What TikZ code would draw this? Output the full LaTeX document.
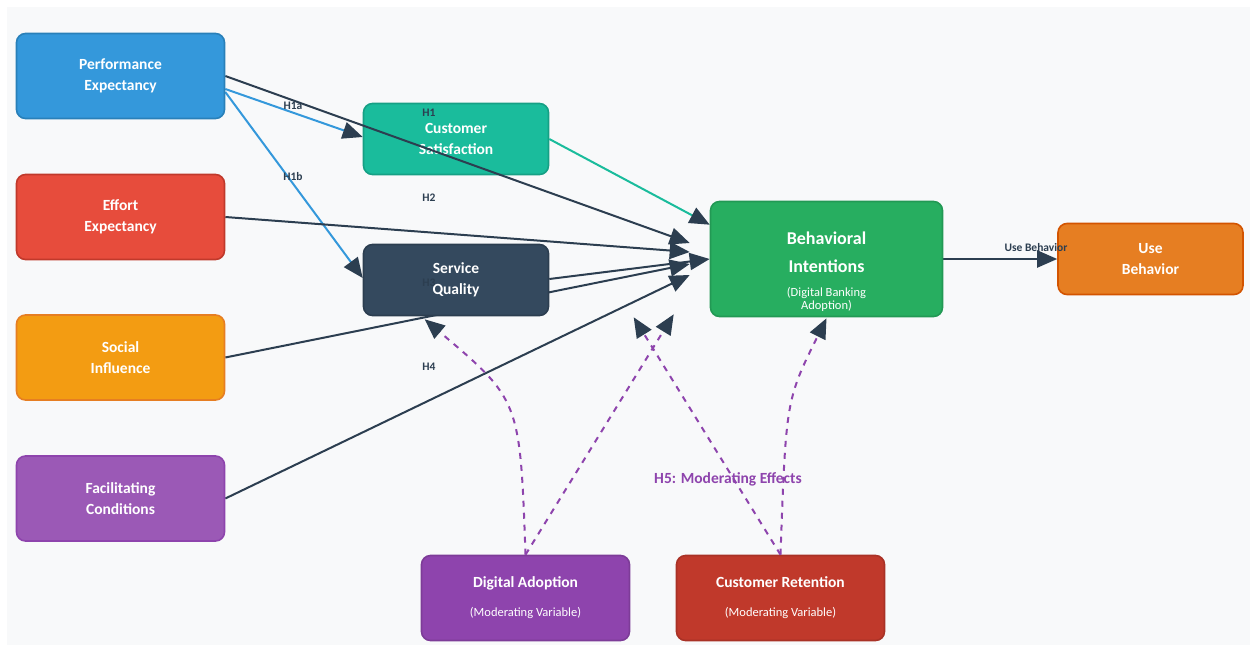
\documentclass[tikz,border=0pt]{standalone}
\usepackage{fontspec}
\setmainfont{Carlito}
\usetikzlibrary{arrows.meta,calc}
\definecolor{panel}{HTML}{F8F9FA}
\definecolor{dk}{HTML}{2C3E50}
\definecolor{peF}{HTML}{3498DB}\definecolor{peD}{HTML}{2980B9}
\definecolor{eeF}{HTML}{E74C3C}\definecolor{eeD}{HTML}{C0392B}
\definecolor{siF}{HTML}{F39C12}\definecolor{siD}{HTML}{E67E22}
\definecolor{fcF}{HTML}{9B59B6}\definecolor{fcD}{HTML}{8E44AD}
\definecolor{csF}{HTML}{1ABC9C}\definecolor{csD}{HTML}{16A085}
\definecolor{sqF}{HTML}{34495E}\definecolor{sqD}{HTML}{2C3E50}
\definecolor{biF}{HTML}{27AE60}\definecolor{biD}{HTML}{229954}
\definecolor{ubF}{HTML}{E67E22}\definecolor{ubD}{HTML}{D35400}
\definecolor{daF}{HTML}{8E44AD}\definecolor{daD}{HTML}{7D3C98}
\definecolor{crF}{HTML}{C0392B}\definecolor{crD}{HTML}{A93226}
\pgfdeclarelayer{bg}\pgfdeclarelayer{lo}\pgfdeclarelayer{mid}\pgfdeclarelayer{top}
\pgfsetlayers{bg,lo,mid,main,top}
\begin{document}
\begin{tikzpicture}[x=1pt,y=-1pt,
  box/.style={rounded corners=9pt, line width=1.6pt, text=white, align=center,
    inner sep=0pt, font=\bfseries\fontsize{15.5}{21}\selectfont},
  side/.style={box, minimum width=208pt, minimum height=85pt},
  mid/.style={box, minimum width=185pt, minimum height=71pt},
  hyp/.style={text=dk, font=\bfseries\fontsize{11.5}{13}\selectfont, inner sep=0pt},
  tip/.style={-{Triangle[length=20pt,width=17pt,color=dk]}},
  dline/.style={line width=2pt, draw=dk, tip},
  modl/.style={line width=2pt, draw=daF, dash pattern=on 6pt off 6pt, tip}
]
\begin{pgfonlayer}{bg}
\fill[white] (0,0) rectangle (1255,646);
\fill[panel] (7,7) rectangle (1250,645);
\end{pgfonlayer}
\useasboundingbox (0,0) rectangle (1255,646);

% boxes
\node[side, fill=peF, draw=peD] (pe) at (120.5,76) {Performance\\Expectancy};
\node[side, fill=eeF, draw=eeD] (ee) at (120.5,217) {Effort\\Expectancy};
\node[side, fill=siF, draw=siD] (si) at (120.5,357.5) {Social\\Influence};
\node[side, fill=fcF, draw=fcD] (fc) at (120.5,498.5) {Facilitating\\Conditions};
\begin{pgfonlayer}{lo}
\node[mid, fill=csF, draw=csD] (cs) at (456,139) {Customer\\Satisfaction};
\end{pgfonlayer}
\node[mid, fill=sqF, draw=sqD] (sq) at (456,280) {Service\\Quality};
\node[box, fill=biF, draw=biD, minimum width=232pt, minimum height=115pt] (bi) at (826.5,259) {};
\node[box, align=center] (bit) at (826.5,272) {{\fontsize{18}{21}\selectfont Behavioral}\\[7pt]{\fontsize{18}{21}\selectfont Intentions}\\[3pt]{\mdseries\fontsize{12.5}{13}\selectfont (Digital Banking}\\[-8pt]{\mdseries\fontsize{12.5}{13}\selectfont Adoption)}};
\node[mid, fill=ubF, draw=ubD] (ub) at (1150.5,259) {Use\\Behavior};
\node[side, fill=daF, draw=daD] (da) at (525.5,598) {Digital Adoption\\[8pt]{\mdseries\fontsize{12.5}{13}\selectfont (Moderating Variable)}};
\node[side, fill=crF, draw=crD] (cr) at (780.5,598) {Customer Retention\\[8pt]{\mdseries\fontsize{12.5}{13}\selectfont (Moderating Variable)}};

% connectors
\begin{pgfonlayer}{mid}
\draw[line width=2pt, draw=peF, tip] ($(pe.east)+(0,13)$) -- ($(cs.west)+(0,-2)$);
\draw[line width=2pt, draw=peF, tip] ($(pe.east)+(0,16)$) -- ($(sq.west)+(0,-2)$);
\draw[dline] ($(pe.east)+(0,0)$) -- ($(bi.west)+(-20,-16)$);
\draw[line width=2pt, draw=csF, tip] (cs.east) -- ($(bi.north west)+(0,24)$);
\draw[dline] (ee.east) -- ($(bi.west)+(-20,-7)$);
\draw[dline] ($(sq.east)+(0,-1)$) -- (bi.west);
\draw[dline] (si.east) -- ($(bi.west)+(-20,5)$);
\draw[dline] (fc.east) -- ($(bi.west)+(-20,16)$);
\draw[dline] (bi.east) -- (ub.west);
\end{pgfonlayer}
\coordinate (m1) at ($(bi.south west)+(-76,0)$);
\coordinate (m2) at ($(bi.south west)+(-36,-3)$);
\draw[modl] (da.north) .. controls (520,400) .. ($(sq.south west)+(62,3)$);
\draw[modl] (da.north) -- (m2);
\draw[modl] (cr.north) -- (m1);
\draw[modl] (cr.north) .. controls (786,400) .. ($(bi.south)+(0,1)$);

% labels
\begin{pgfonlayer}{top}
\node[hyp] (h1a) at (293,106) {H1a};
\node[hyp] (h1b) at (293,177) {H1b};
\node[hyp] (h1) at (429,113) {H1};
\node[hyp] (h2) at (429,198) {H2};
\node[hyp] (h3) at (429,283) {H3};
\node[hyp] (h4) at (429,367) {H4};
\node[hyp] (ubl) at (1036,248) {Use Behavior};
\node[text=daF, font=\bfseries\fontsize{15.5}{18}\selectfont, inner sep=0pt] (h5) at (728,479) {H5: Moderating Effects};
\end{pgfonlayer}
\end{tikzpicture}
\end{document}
